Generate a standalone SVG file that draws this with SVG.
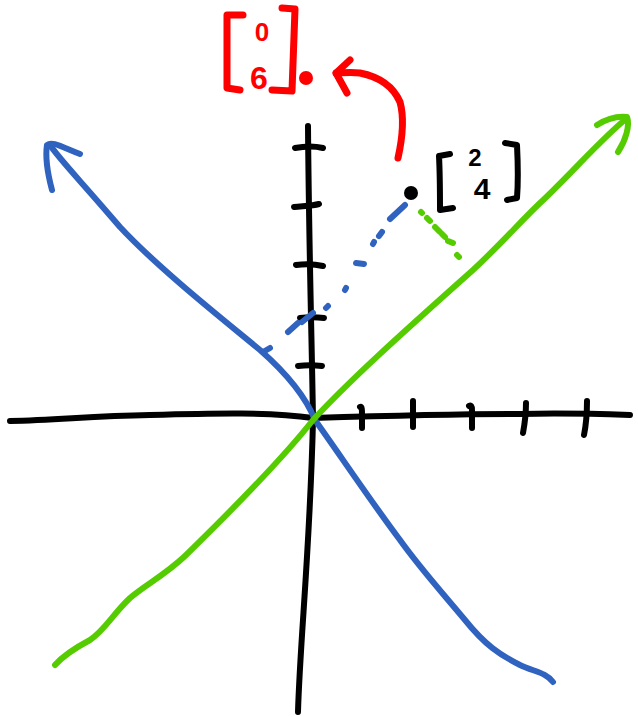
<svg xmlns="http://www.w3.org/2000/svg" width="638" height="717" viewBox="0 0 638 717">
<style>
.ln{fill:none;stroke-linecap:round;stroke-linejoin:round}
.k{stroke:#000;stroke-width:6}
.b{stroke:#2f63bf;stroke-width:6}
.g{stroke:#55cc00;stroke-width:6}
.r{stroke:#ff0000;stroke-width:7}
.bd{stroke:#2f63bf;stroke-width:6}
.gd{stroke:#55cc00;stroke-width:6}
.lbl{font-family:"Liberation Sans",Arial,sans-serif;font-weight:bold}
</style>
<rect width="638" height="717" fill="#fff"/>
<g id="axes">
<path class="ln k" d="M10,421 C60,420 90,416 150,415 C220,413 270,412 313,418 C380,416 450,414 520,414 C560,413 600,414 630,415"/>
<path class="ln k" d="M308,126 C309,250 312,350 313,420 C310,550 300,640 298,712"/>
<path class="ln k" d="M295,148 C305,146 315,146 323,148 M294,207 C302,206 312,206 319,204 M296,265 C305,264 314,264 323,266 M300,318 C308,317 316,317 324,318 M298,366 C306,365 314,365 322,366"/>
<path class="ln k" d="M360,407 C362,406 362,410 362,415 L362,428 M413,401 L413,427 M469,406 C471,405 472,406 472,410 L472,428 M526,403 C526,412 525,422 523,433 M587,401 C587,414 586,425 584,435"/>
</g>
<g id="blue-line">
<path class="ln b" d="M50,145 C60,160 80,180 120,227 C160,270 230,325 260,350 C285,372 305,395 315,420 C340,455 370,500 400,540 C420,568 440,590 465,620 C485,645 500,655 520,665 C535,672 545,672 553,682"/>
<path class="ln b" d="M52,190 C48,175 45,158 47,145 C52,141 60,146 80,154"/>
</g>
<g id="green-line">
<path class="ln g" d="M55,665 C62,657 75,648 90,640 C105,630 112,615 130,598 C145,585 165,575 185,556 C230,512 280,462 313,420 C350,380 400,335 473,270 C500,245 520,222 540,203 C570,175 600,140 627,118"/>
<path class="ln g" d="M597,125 C608,118 618,116 627,117 C630,125 626,140 618,152"/>
</g>
<g id="point-2-4">
<circle cx="411" cy="193" r="7" fill="#000"/>
<path class="ln k" d="M450,154 L439,156 C440,175 440,195 440,210 L453,208"/>
<path class="ln k" d="M505,143 L517,145 C518,165 518,185 517,198 L507,200"/>
<text class="lbl" x="475" y="166" font-size="24" text-anchor="middle">2</text>
<text class="lbl" x="482" y="199" font-size="30" text-anchor="middle">4</text>
<path class="ln bd" d="M390,219 L405,205 M379,236 L382,232 M373,244 L374,242 M356,263 L364,264 M345,290 L346,288 M326,308 L328,306 M302,322 L313,313 M288,332 L298,323 M263,352 L270,348"/>
<path class="ln gd" d="M421,212 L422,213 M427,218 L430,221 M435,227 L440,232 M442,234 L445,237 M448,241 L453,243 M457,255 L459,257"/>
</g>
<g id="point-0-6">
<path class="ln r" d="M243,15 L227,15 C227,40 227,65 227,88 L240,90"/>
<path class="ln r" d="M282,8 L295,9 C294,35 293,65 292,91 L272,90"/>
<text class="lbl" x="262" y="41" font-size="26" fill="#ff0000" text-anchor="middle">0</text>
<text class="lbl" x="259" y="89" font-size="32" fill="#ff0000" text-anchor="middle">6</text>
<circle cx="306" cy="78" r="7" fill="#ff0000"/>
<path class="ln r" d="M398,158 C402,140 405,120 400,102 C393,86 380,77 360,73 C350,72 342,73 336,73"/>
<path class="ln r" d="M350,60 L336,73 L347,93"/>
</g>
</svg>
